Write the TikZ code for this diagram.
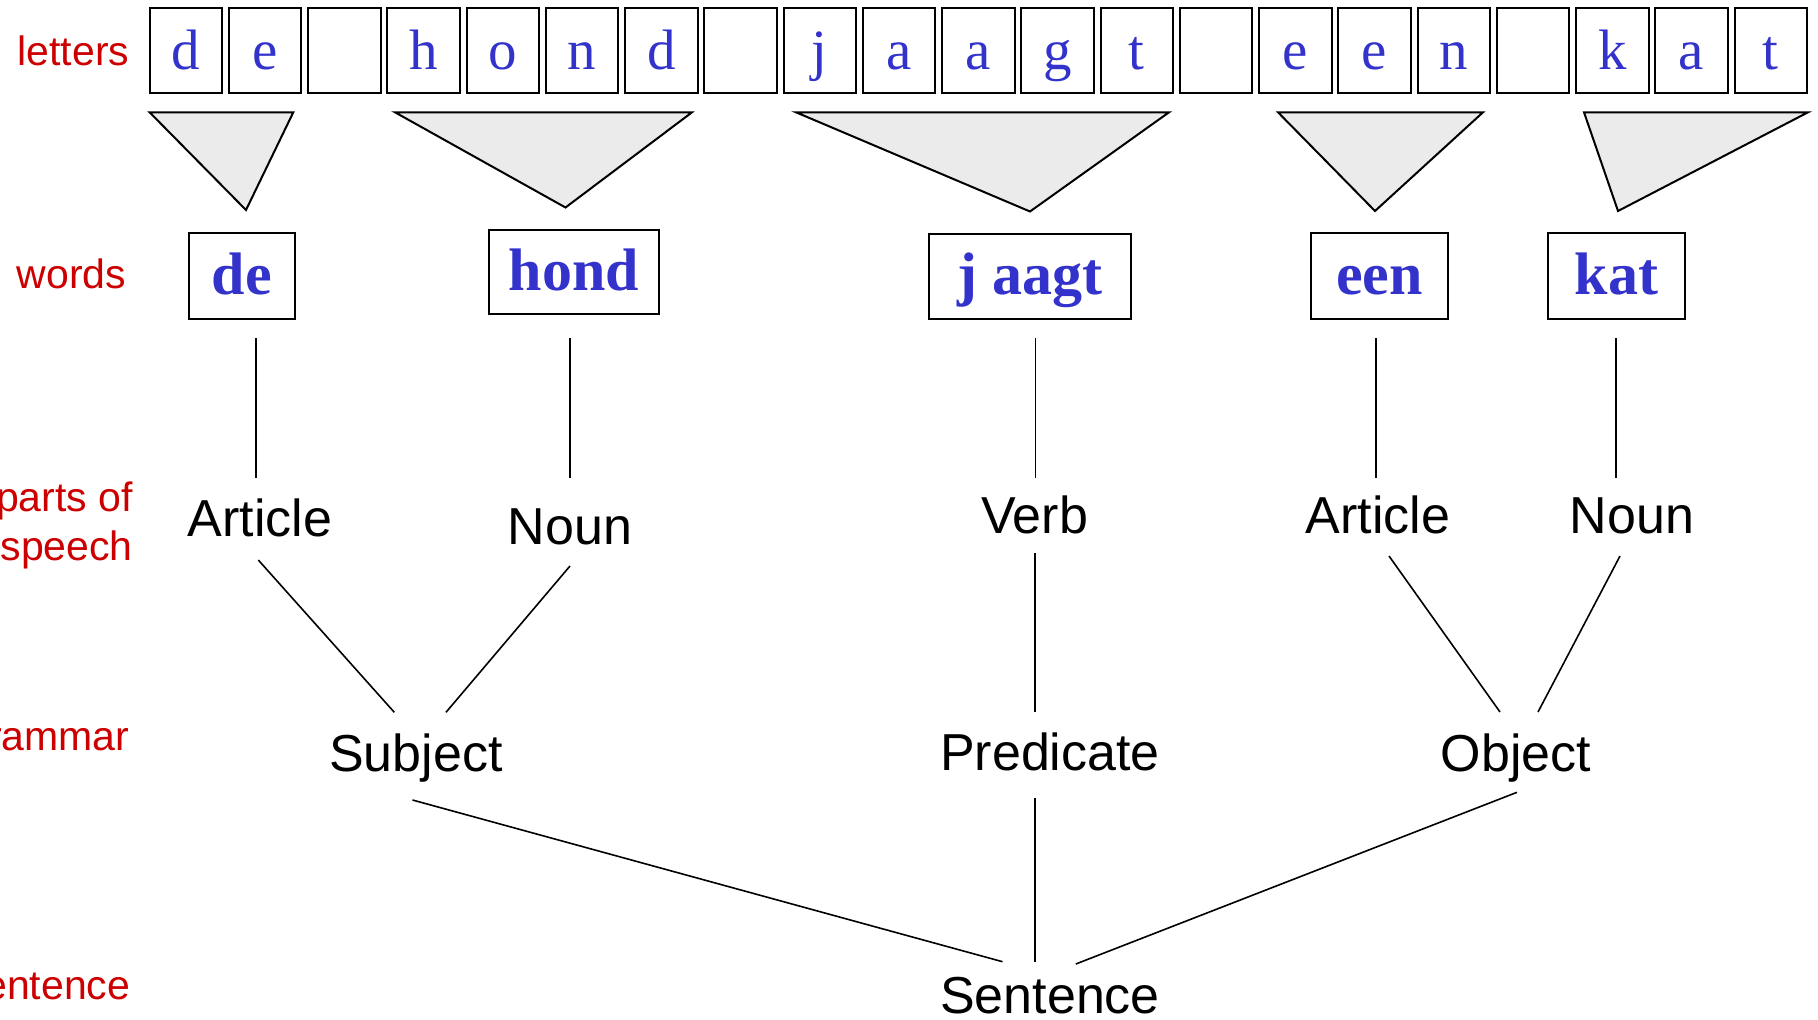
\documentclass[tikz,border=0pt]{standalone}
\usepackage{fontspec}
\setmainfont{Liberation Serif}
\newfontfamily\labsans{Liberation Sans}
\usetikzlibrary{calc}
\definecolor{letblue}{RGB}{51,51,204}
\definecolor{labred}{RGB}{204,0,0}
\definecolor{trigray}{RGB}{235,235,235}
\begin{document}
\begin{tikzpicture}[x=1pt,y=-1pt,
  lbox/.style={draw,line width=2pt,minimum width=72.5pt,minimum height=85pt,inner sep=0pt,text height=42pt,text depth=5pt,font=\fontsize{57}{60}\selectfont,text=letblue},
  wbox/.style={draw,line width=2pt,inner sep=0pt,text height=44pt,text depth=8pt,font=\fontsize{60}{64}\selectfont\bfseries,text=letblue},
  posnode/.style={anchor=base,inner sep=0pt,font=\labsans\fontsize{52}{56}\selectfont},
  lab/.style={anchor=base east,inner sep=0pt,text=labred,font=\labsans\fontsize{41}{46}\selectfont},
  tri/.style={draw,line width=2pt,fill=trigray,line join=miter},
  link/.style={line width=1.6pt}]
\useasboundingbox (0,0) rectangle (1818,1020);
% letters
\foreach \c [count=\i from 0] in {d,e,{},h,o,n,d,{},j,a,a,g,t,{},e,e,n,{},k,a,t} {
  \node[lbox] (L\i) at ({185.85+\i*79.25},50.5) {\c};
}
% triangles
\draw[tri] (149.6,112.3) -- (293.3,112.3) -- (246,210) -- cycle;
\draw[tri] (395,112.3) -- (692,112.3) -- (565.5,207.5) -- cycle;
\draw[tri] (796,112.3) -- (1169,112.3) -- (1030,211.5) -- cycle;
\draw[tri] (1278,112.3) -- (1483,112.3) -- (1375,211) -- cycle;
\draw[tri] (1584,112.3) -- (1808,112.3) -- (1618,211) -- cycle;
% words
\node[wbox,minimum width=105.5pt,minimum height=86pt] (de) at (241.75,276) {de};
\node[wbox,minimum width=169.5pt,minimum height=84.6pt] (hond) at (573.75,272) {hond};
\node[wbox,minimum width=201.5pt,minimum height=85.5pt] (jaagt) at (1029.75,276.25) {j aagt};
\node[wbox,minimum width=137pt,minimum height=86pt] (een) at (1379.5,276) {een};
\node[wbox,minimum width=137pt,minimum height=86pt] (kat) at (1616.5,276) {kat};
% parts of speech
\node[posnode] (art1) at (260,536.7) {Article};
\node[posnode] (noun1) at (570,544) {Noun};
\node[posnode] (verb) at (1034.6,533.3) {Verb};
\node[posnode] (art2) at (1378,533.3) {Article};
\node[posnode] (noun2) at (1632,533.3) {Noun};
% grammar
\node[posnode] (subj) at (416,771.7) {Subject};
\node[posnode] (pred) at (1050,770.7) {Predicate};
\node[posnode] (obj) at (1516,771) {Object};
% sentence
\node[posnode] (sent) at (1050,1013.3) {Sentence};
% red labels
\node[lab] (rl1) at (129.5,65) {letters};
\node[lab] (rl2) at (126.3,288.3) {words};
\node[lab] (rl3) at (133,511.7) {parts of};
\node[lab] (rl4) at (133,560) {speech};
\node[lab] (rl5) at (129.5,750.7) {grammar};
\node[lab] (rl6) at (130.4,999) {sentence};
% connectors words -> parts of speech
\draw[link] ($(de.south)+(14.25,18)$) -- ($(art1.base)+(-4,-58.7)$);
\draw[link] ($(hond.south)+(-3.75,22.8)$) -- ($(noun1.base)+(0,-66)$);
\draw[link] ($(jaagt.south)+(5.75,18)$) -- ($(verb.base)+(0.9,-55.3)$);
\draw[link] ($(een.south)+(-3.5,18)$) -- ($(art2.base)+(-2,-55.3)$);
\draw[link] ($(kat.south)+(-0.5,18)$) -- ($(noun2.base)+(-16,-55.3)$);
% parts of speech -> grammar
\draw[link] ($(art1.base)+(-1.7,23.3)$) -- ($(subj.base)+(-21.7,-59.4)$);
\draw[link] ($(noun1.base)+(0,22)$) -- ($(subj.base)+(30,-59.4)$);
\draw[link] ($(verb.base)+(0.4,19.7)$) -- ($(pred.base)+(-15,-58.7)$);
\draw[link] ($(art2.base)+(11,22.7)$) -- ($(obj.base)+(-16,-59)$);
\draw[link] ($(noun2.base)+(-12,22.7)$) -- ($(obj.base)+(22,-59)$);
% grammar -> sentence
\draw[link] ($(subj.base)+(-3.5,28.3)$) -- ($(sent.base)+(-47.5,-51.6)$);
\draw[link] ($(pred.base)+(-15,27)$) -- ($(sent.base)+(-15,-51.6)$);
\draw[link] ($(obj.base)+(1,21.3)$) -- ($(sent.base)+(25.8,-49.3)$);
\end{tikzpicture}
\end{document}
